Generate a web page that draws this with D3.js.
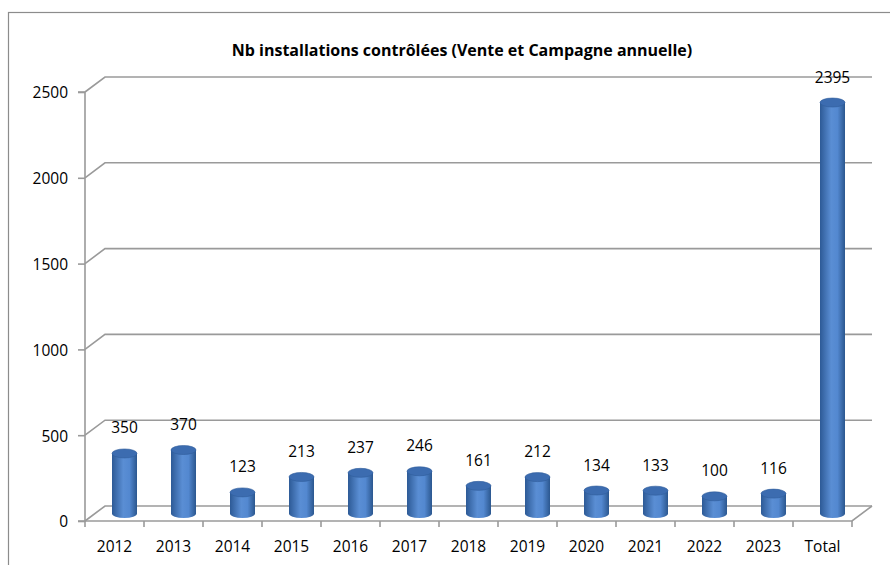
<!DOCTYPE html>
<html>
<head>
<meta charset="utf-8">
<script src="https://cdn.jsdelivr.net/npm/d3@7"></script>
<style>
  body { margin: 0; background: #fff; }
  text { font-family: "Open Sans", "Noto Sans", sans-serif; fill: #000; }
</style>
</head>
<body>
<svg id="chart" width="890" height="565"></svg>
<script>
// data
var years = ["2012", "2013", "2014", "2015", "2016", "2017", "2018", "2019", "2020", "2021", "2022", "2023", "Total"];
var counts = [350, 370, 123, 213, 237, 246, 161, 212, 134, 133, 100, 116, 2395];
var yTicks = [0, 500, 1000, 1500, 2000, 2500];
var title = "Nb installations contrôlées (Vente et Campagne annuelle)";

var svg = d3.select("#chart");

// outer frame
svg.append("rect")
    .attr("x", 8.5).attr("y", 12.5)
    .attr("width", 900).attr("height", 600)
    .attr("fill", "none")
    .attr("stroke", "#8c8c8c")
    .attr("stroke-width", 1.2);

svg.append("text")
    .attr("x", 462).attr("y", 56)
    .attr("text-anchor", "middle")
    .style("font-size", "16px")
    .style("font-weight", "bold")
    .text(title);

// 3d depth offset of the back wall
var dx = 20, dy = -15;

var x = d3.scaleBand()
    .domain(years)
    .range([85, 852]);

var y = d3.scaleLinear()
    .domain([0, 2500])
    .range([521, 92]);

var gridColor = "#9a9a9a";

// back wall gridlines (with the little diagonal to the front axis)
var grid = svg.append("g");
yTicks.forEach(function (t) {
    grid.append("path")
        .attr("d", "M" + x.range()[0] + "," + y(t) + "L" + (x.range()[0] + dx) + "," + (y(t) + dy) +
            "L" + (x.range()[1] + dx) + "," + (y(t) + dy))
        .attr("fill", "none")
        .attr("stroke", gridColor)
        .attr("stroke-width", 1.6);
});

// floor front edge and right side
grid.append("path")
    .attr("d", "M" + x.range()[0] + "," + y(0) + "L" + x.range()[1] + "," + y(0) +
        "L" + (x.range()[1] + dx) + "," + (y(0) + dy))
    .attr("fill", "none")
    .attr("stroke", gridColor)
    .attr("stroke-width", 1.6);

// y axis
var yAxis = d3.axisLeft(y).tickValues(yTicks).tickFormat(d3.format("d")).tickSize(7).tickPadding(10);
var gy = svg.append("g")
    .attr("transform", "translate(" + x.range()[0] + ",1)")
    .call(yAxis);
gy.select(".domain").attr("stroke", gridColor).attr("stroke-width", 1.6)
    .attr("transform", "translate(0,-1)")
    .attr("d", "M-7," + y(2500) + "H0V" + y(0) + "H-7");
gy.selectAll(".tick line").attr("stroke", gridColor).attr("stroke-width", 1.6).attr("y1", -1).attr("y2", -1);
gy.selectAll("text").style("font-size", "15.5px").attr("fill", "#000");

// x axis
var xAxis = d3.axisBottom(x).tickSize(0).tickPadding(20);
var gx = svg.append("g")
    .attr("transform", "translate(0," + y(0) + ")")
    .call(xAxis);
gx.select(".domain").remove();
gx.selectAll("text").style("font-size", "15.5px").attr("fill", "#000");
// tick marks between categories
var bounds = years.map(function (d) { return x(d); }).concat([x.range()[1]]);
gx.selectAll(".sep")
    .data(bounds)
    .enter()
    .append("line")
    .attr("x1", function (d) { return d; })
    .attr("x2", function (d) { return d; })
    .attr("y1", 0).attr("y2", 6)
    .attr("stroke", gridColor)
    .attr("stroke-width", 1.6);

// cylinder shading
var defs = svg.append("defs");
var side = defs.append("linearGradient").attr("id", "side")
    .attr("x1", "0%").attr("x2", "100%").attr("y1", "0%").attr("y2", "0%");
side.append("stop").attr("offset", "0%").attr("stop-color", "#2d5a96");
side.append("stop").attr("offset", "45%").attr("stop-color", "#5a8ed4");
side.append("stop").attr("offset", "70%").attr("stop-color", "#5388d0");
side.append("stop").attr("offset", "100%").attr("stop-color", "#2b578f");

var cylW = 25, ry = 4.5;
var cx = function (d) { return x(d) + x.bandwidth() / 2 + dx / 2; };
var cy = function (v) { return y(v) + dy / 2; };

var bars = svg.append("g").selectAll("g")
    .data(years)
    .enter()
    .append("g");

bars.append("path")
    .attr("d", function (d, i) {
        var l = cx(d) - cylW / 2, r = cx(d) + cylW / 2;
        var top = cy(counts[i]), bot = cy(0);
        return "M" + l + "," + top + "L" + l + "," + bot +
            "A" + (cylW / 2) + "," + ry + " 0 0 0 " + r + "," + bot +
            "L" + r + "," + top + "Z";
    })
    .attr("fill", "url(#side)");

bars.append("ellipse")
    .attr("cx", cx)
    .attr("cy", function (d, i) { return cy(counts[i]); })
    .attr("rx", cylW / 2)
    .attr("ry", ry)
    .attr("fill", "#3c6cb0")
    .attr("stroke", "#2f5c9a")
    .attr("stroke-width", 0.6);

bars.append("text")
    .attr("x", cx)
    .attr("y", function (d, i) { return cy(counts[i]) - 20; })
    .attr("text-anchor", "middle")
    .style("font-size", "15.5px")
    .text(function (d, i) { return counts[i]; });
</script>
</body>
</html>
